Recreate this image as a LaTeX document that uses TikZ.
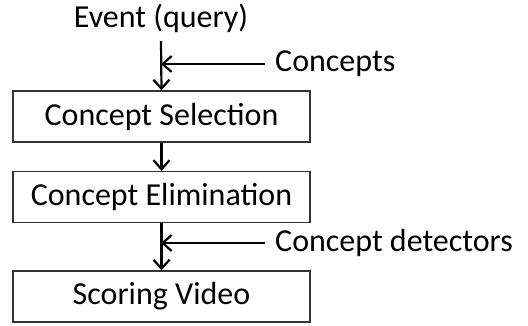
\documentclass[tikz,border=0pt]{standalone}
\usepackage{fontspec}
\setmainfont{Carlito}
\usetikzlibrary{arrows.meta}
\begin{document}
\begin{tikzpicture}[x=1pt,y=-1pt,
  box/.style={draw=black!80,line width=1.3pt,minimum width=297pt,minimum height=51pt,inner sep=0pt,font=\fontsize{32}{38}\selectfont},
  lbl/.style={inner sep=0pt,font=\fontsize{32}{38}\selectfont},
  arr/.style={line width=2.2pt,-{Straight Barb[length=9pt,width=16pt,line width=2.2pt]}}]
\useasboundingbox (0,0) rectangle (528,325);
\node[lbl] (ev) at (161,18) {Event (query)};
\node[box] (s1) at (161.5,116.5) {Concept Selection};
\node[box] (s2) at (161.5,197) {Concept Elimination};
\node[box] (s3) at (161.5,296.5) {Scoring Video};
\coordinate (evb) at (161,41);
\node[lbl,anchor=west] (c1) at (275,64) {Concepts};
\node[lbl,anchor=west] (c2) at (275,243) {Concept detectors};
\coordinate (j1) at (161,64);
\coordinate (j2) at (161,243);
\coordinate (c1s) at (265,64);
\coordinate (c2s) at (265,243);
\draw[arr] (evb) -- (s1.north);
\draw[arr] (s1.south) -- (s2.north);
\draw[arr] (s2.south) -- (s3.north);
\draw[arr] (c1s) -- (j1);
\draw[arr] (c2s) -- (j2);
\end{tikzpicture}
\end{document}
